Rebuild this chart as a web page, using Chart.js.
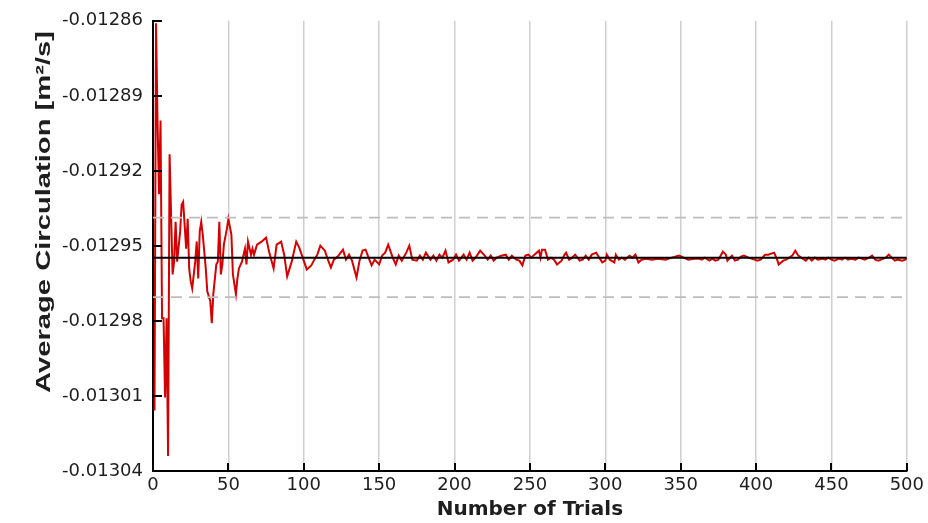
<!DOCTYPE html>
<html>
<head>
<meta charset="utf-8">
<title>Average Circulation vs Number of Trials</title>
<script src="https://cdn.jsdelivr.net/npm/chart.js@4.4.1/dist/chart.umd.min.js"></script>
<style>
  html, body { margin: 0; padding: 0; background: #ffffff; }
  #wrap { width: 928px; height: 523px; }
</style>
</head>
<body>
<div id="wrap"><canvas id="chart" width="928" height="523"></canvas></div>
<script>
// Running average of circulation after each trial
const trials = [
  1, 2, 3, 4, 5, 6, 7, 8, 9, 10,
  11, 13, 14, 15, 16, 18, 19, 20, 22, 23,
  24, 25, 26, 28, 29, 30, 31, 32, 33, 35,
  36, 38, 39, 40, 42, 43, 44, 45, 46, 47,
  49, 50, 52, 53, 55, 56, 57, 59, 61, 62,
  63, 65, 66, 67, 69, 72, 75, 77, 80, 82,
  85, 87, 89, 92, 95, 97, 102, 105, 107, 109,
  111, 114, 116, 118, 120, 123, 126, 128, 130, 132,
  135, 137, 139, 141, 143, 145, 147, 150, 152, 154,
  156, 159, 161, 163, 165, 168, 170, 172, 175, 177,
  179, 181, 184, 186, 188, 190, 192, 194, 196, 199,
  201, 203, 206, 208, 210, 212, 214, 217, 220, 222,
  224, 226, 228, 231, 234, 236, 238, 241, 243, 245,
  247, 249, 251, 253, 256, 257, 258, 260, 262, 264,
  266, 268, 271, 273, 274, 276, 278, 280, 283, 285,
  287, 289, 291, 294, 296, 298, 300, 301, 303, 306,
  307, 309, 311, 313, 316, 318, 320, 322, 324, 327,
  331, 335, 340, 344, 349, 352, 355, 359, 362, 364,
  366, 369, 371, 373, 375, 378, 380, 381, 384, 386,
  388, 390, 392, 395, 397, 401, 403, 406, 408, 412,
  414, 415, 418, 420, 422, 424, 426, 428, 430, 433,
  435, 437, 439, 441, 444, 446, 448, 450, 452, 455,
  457, 459, 461, 463, 466, 468, 470, 472, 475, 477,
  479, 481, 483, 486, 488, 490, 492, 494, 497, 499,
  500
];
const circulation = [
  -0.0130158, -0.0128610, -0.0128999, -0.0129293, -0.0128999, -0.0129789, -0.0129789, -0.0130106, -0.0129789, -0.0130340,
  -0.0129134, -0.0129614, -0.0129563, -0.0129404, -0.0129563, -0.0129443, -0.0129336, -0.0129324, -0.0129511, -0.0129392,
  -0.0129590, -0.0129642, -0.0129670, -0.0129563, -0.0129483, -0.0129630, -0.0129443, -0.0129404, -0.0129455, -0.0129590,
  -0.0129682, -0.0129721, -0.0129809, -0.0129693, -0.0129574, -0.0129563, -0.0129404, -0.0129614, -0.0129574, -0.0129495,
  -0.0129432, -0.0129392, -0.0129455, -0.0129614, -0.0129693, -0.0129630, -0.0129590, -0.0129563, -0.0129511, -0.0129574,
  -0.0129483, -0.0129535, -0.0129511, -0.0129535, -0.0129495, -0.0129483, -0.0129467, -0.0129523, -0.0129590, -0.0129495,
  -0.0129483, -0.0129535, -0.0129622, -0.0129563, -0.0129483, -0.0129507, -0.0129594, -0.0129578, -0.0129555, -0.0129535,
  -0.0129499, -0.0129519, -0.0129555, -0.0129586, -0.0129555, -0.0129539, -0.0129515, -0.0129555, -0.0129535, -0.0129559,
  -0.0129626, -0.0129559, -0.0129519, -0.0129515, -0.0129547, -0.0129578, -0.0129555, -0.0129574, -0.0129539, -0.0129527,
  -0.0129495, -0.0129547, -0.0129574, -0.0129539, -0.0129559, -0.0129527, -0.0129499, -0.0129555, -0.0129559, -0.0129539,
  -0.0129555, -0.0129527, -0.0129555, -0.0129539, -0.0129559, -0.0129535, -0.0129547, -0.0129519, -0.0129566, -0.0129555,
  -0.0129535, -0.0129559, -0.0129535, -0.0129555, -0.0129527, -0.0129559, -0.0129547, -0.0129519, -0.0129539, -0.0129555,
  -0.0129539, -0.0129559, -0.0129547, -0.0129539, -0.0129535, -0.0129555, -0.0129539, -0.0129555, -0.0129559, -0.0129578,
  -0.0129539, -0.0129535, -0.0129547, -0.0129535, -0.0129519, -0.0129547, -0.0129515, -0.0129515, -0.0129555, -0.0129547,
  -0.0129555, -0.0129574, -0.0129559, -0.0129535, -0.0129527, -0.0129555, -0.0129547, -0.0129535, -0.0129559, -0.0129555,
  -0.0129539, -0.0129555, -0.0129535, -0.0129527, -0.0129547, -0.0129566, -0.0129559, -0.0129535, -0.0129555, -0.0129566,
  -0.0129535, -0.0129555, -0.0129547, -0.0129555, -0.0129539, -0.0129547, -0.0129535, -0.0129566, -0.0129555, -0.0129551,
  -0.0129555, -0.0129551, -0.0129555, -0.0129547, -0.0129539, -0.0129547, -0.0129555, -0.0129551, -0.0129551, -0.0129555,
  -0.0129547, -0.0129559, -0.0129551, -0.0129559, -0.0129555, -0.0129523, -0.0129535, -0.0129559, -0.0129539, -0.0129559,
  -0.0129555, -0.0129543, -0.0129539, -0.0129547, -0.0129551, -0.0129559, -0.0129555, -0.0129535, -0.0129535, -0.0129527,
  -0.0129555, -0.0129574, -0.0129559, -0.0129555, -0.0129547, -0.0129539, -0.0129519, -0.0129539, -0.0129547, -0.0129559,
  -0.0129547, -0.0129559, -0.0129547, -0.0129555, -0.0129551, -0.0129555, -0.0129547, -0.0129555, -0.0129559, -0.0129551,
  -0.0129555, -0.0129547, -0.0129555, -0.0129551, -0.0129555, -0.0129547, -0.0129551, -0.0129555, -0.0129547, -0.0129539,
  -0.0129555, -0.0129559, -0.0129555, -0.0129547, -0.0129535, -0.0129547, -0.0129559, -0.0129555, -0.0129559, -0.0129555,
  -0.0129551
];
// Overall mean and the band drawn around it
const meanValue = -0.0129547;
const bandUpper = -0.0129387;
const bandLower = -0.0129705;

const xTicks = [0, 50, 100, 150, 200, 250, 300, 350, 400, 450, 500];
const yTicks = [-0.01304, -0.01301, -0.01298, -0.01295, -0.01292, -0.01289, -0.01286];

const xTitle = 'Number of Trials';
const yTitle = 'Average Circulation [m\u00B2/s]';

const TEXT = '#1e1e1e';
const series = trials.map((t, i) => ({ x: t, y: circulation[i] }));
const flat = v => [{ x: xTicks[0], y: v }, { x: xTicks[xTicks.length - 1], y: v }];

// Short tick marks pointing into the plot, plus the rotated y-axis title
const axisMarks = {
  id: 'axisMarks',
  afterDatasetsDraw(chart) {
    const { ctx, chartArea: a, scales: { x, y } } = chart;
    ctx.save();
    ctx.strokeStyle = '#000000';
    ctx.lineWidth = 2;
    ctx.beginPath();
    yTicks.forEach(v => {
      const py = Math.round(y.getPixelForValue(v));
      ctx.moveTo(a.left, py);
      ctx.lineTo(a.left + 9, py);
    });
    xTicks.forEach(v => {
      const px = Math.round(x.getPixelForValue(v));
      ctx.moveTo(px, a.bottom);
      ctx.lineTo(px, a.bottom - 8);
    });
    ctx.stroke();
    ctx.restore();
  },
  afterDraw(chart) {
    const ctx = chart.ctx;
    ctx.save();
    ctx.font = 'bold 20px "Liberation Sans", Arial, sans-serif';
    const w = ctx.measureText(yTitle).width;
    ctx.translate(44, 212);
    ctx.rotate(-Math.PI / 2);
    ctx.scale(362 / w, 1);
    ctx.fillStyle = TEXT;
    ctx.textAlign = 'center';
    ctx.textBaseline = 'middle';
    ctx.fillText(yTitle, 0, 0);
    ctx.restore();
  }
};

new Chart(document.getElementById('chart'), {
  type: 'line',
  data: {
    datasets: [
      {
        data: series,
        borderColor: '#d20000',
        borderWidth: 2,
        pointRadius: 0,
        tension: 0,
        order: 2
      },
      {
        data: flat(bandUpper),
        borderColor: '#bdbdbd',
        borderWidth: 1.6,
        borderDash: [11, 7],
        pointRadius: 0,
        order: 1
      },
      {
        data: flat(bandLower),
        borderColor: '#bdbdbd',
        borderWidth: 1.6,
        borderDash: [11, 7],
        pointRadius: 0,
        order: 1
      },
      {
        data: flat(meanValue),
        borderColor: '#000000',
        borderWidth: 2,
        pointRadius: 0,
        order: 0
      }
    ]
  },
  options: {
    responsive: false,
    animation: false,
    devicePixelRatio: 1,
    layout: { padding: { top: 17, right: 20, left: 0, bottom: 0 } },
    plugins: { legend: { display: false }, tooltip: { enabled: false } },
    scales: {
      x: {
        type: 'linear',
        min: 0,
        max: 500,
        afterBuildTicks: s => { s.ticks = xTicks.map(v => ({ value: v })); },
        afterFit: s => { s.height = 52; },
        grid: { color: '#cfcfcf', lineWidth: 1.5, drawTicks: false },
        border: { color: '#000000', width: 2 },
        ticks: {
          padding: 4,
          color: TEXT,
          font: { family: '"DejaVu Sans", sans-serif', size: 18 },
          maxRotation: 0,
          callback: v => String(v)
        },
        title: {
          display: true,
          text: xTitle,
          color: TEXT,
          font: { family: '"DejaVu Sans", sans-serif', size: 20, weight: 'bold' },
          padding: { top: 0, bottom: 1 }
        }
      },
      y: {
        type: 'linear',
        min: yTicks[0],
        max: yTicks[yTicks.length - 1],
        afterBuildTicks: s => { s.ticks = yTicks.map(v => ({ value: v })); },
        afterFit: s => { s.width = 153; },
        grid: { display: false, drawTicks: false },
        border: { color: '#000000', width: 2 },
        ticks: {
          padding: 10,
          color: TEXT,
          font: { family: '"DejaVu Sans", sans-serif', size: 18 },
          callback: v => v.toFixed(5)
        }
      }
    }
  },
  plugins: [axisMarks]
});
</script>
</body>
</html>
